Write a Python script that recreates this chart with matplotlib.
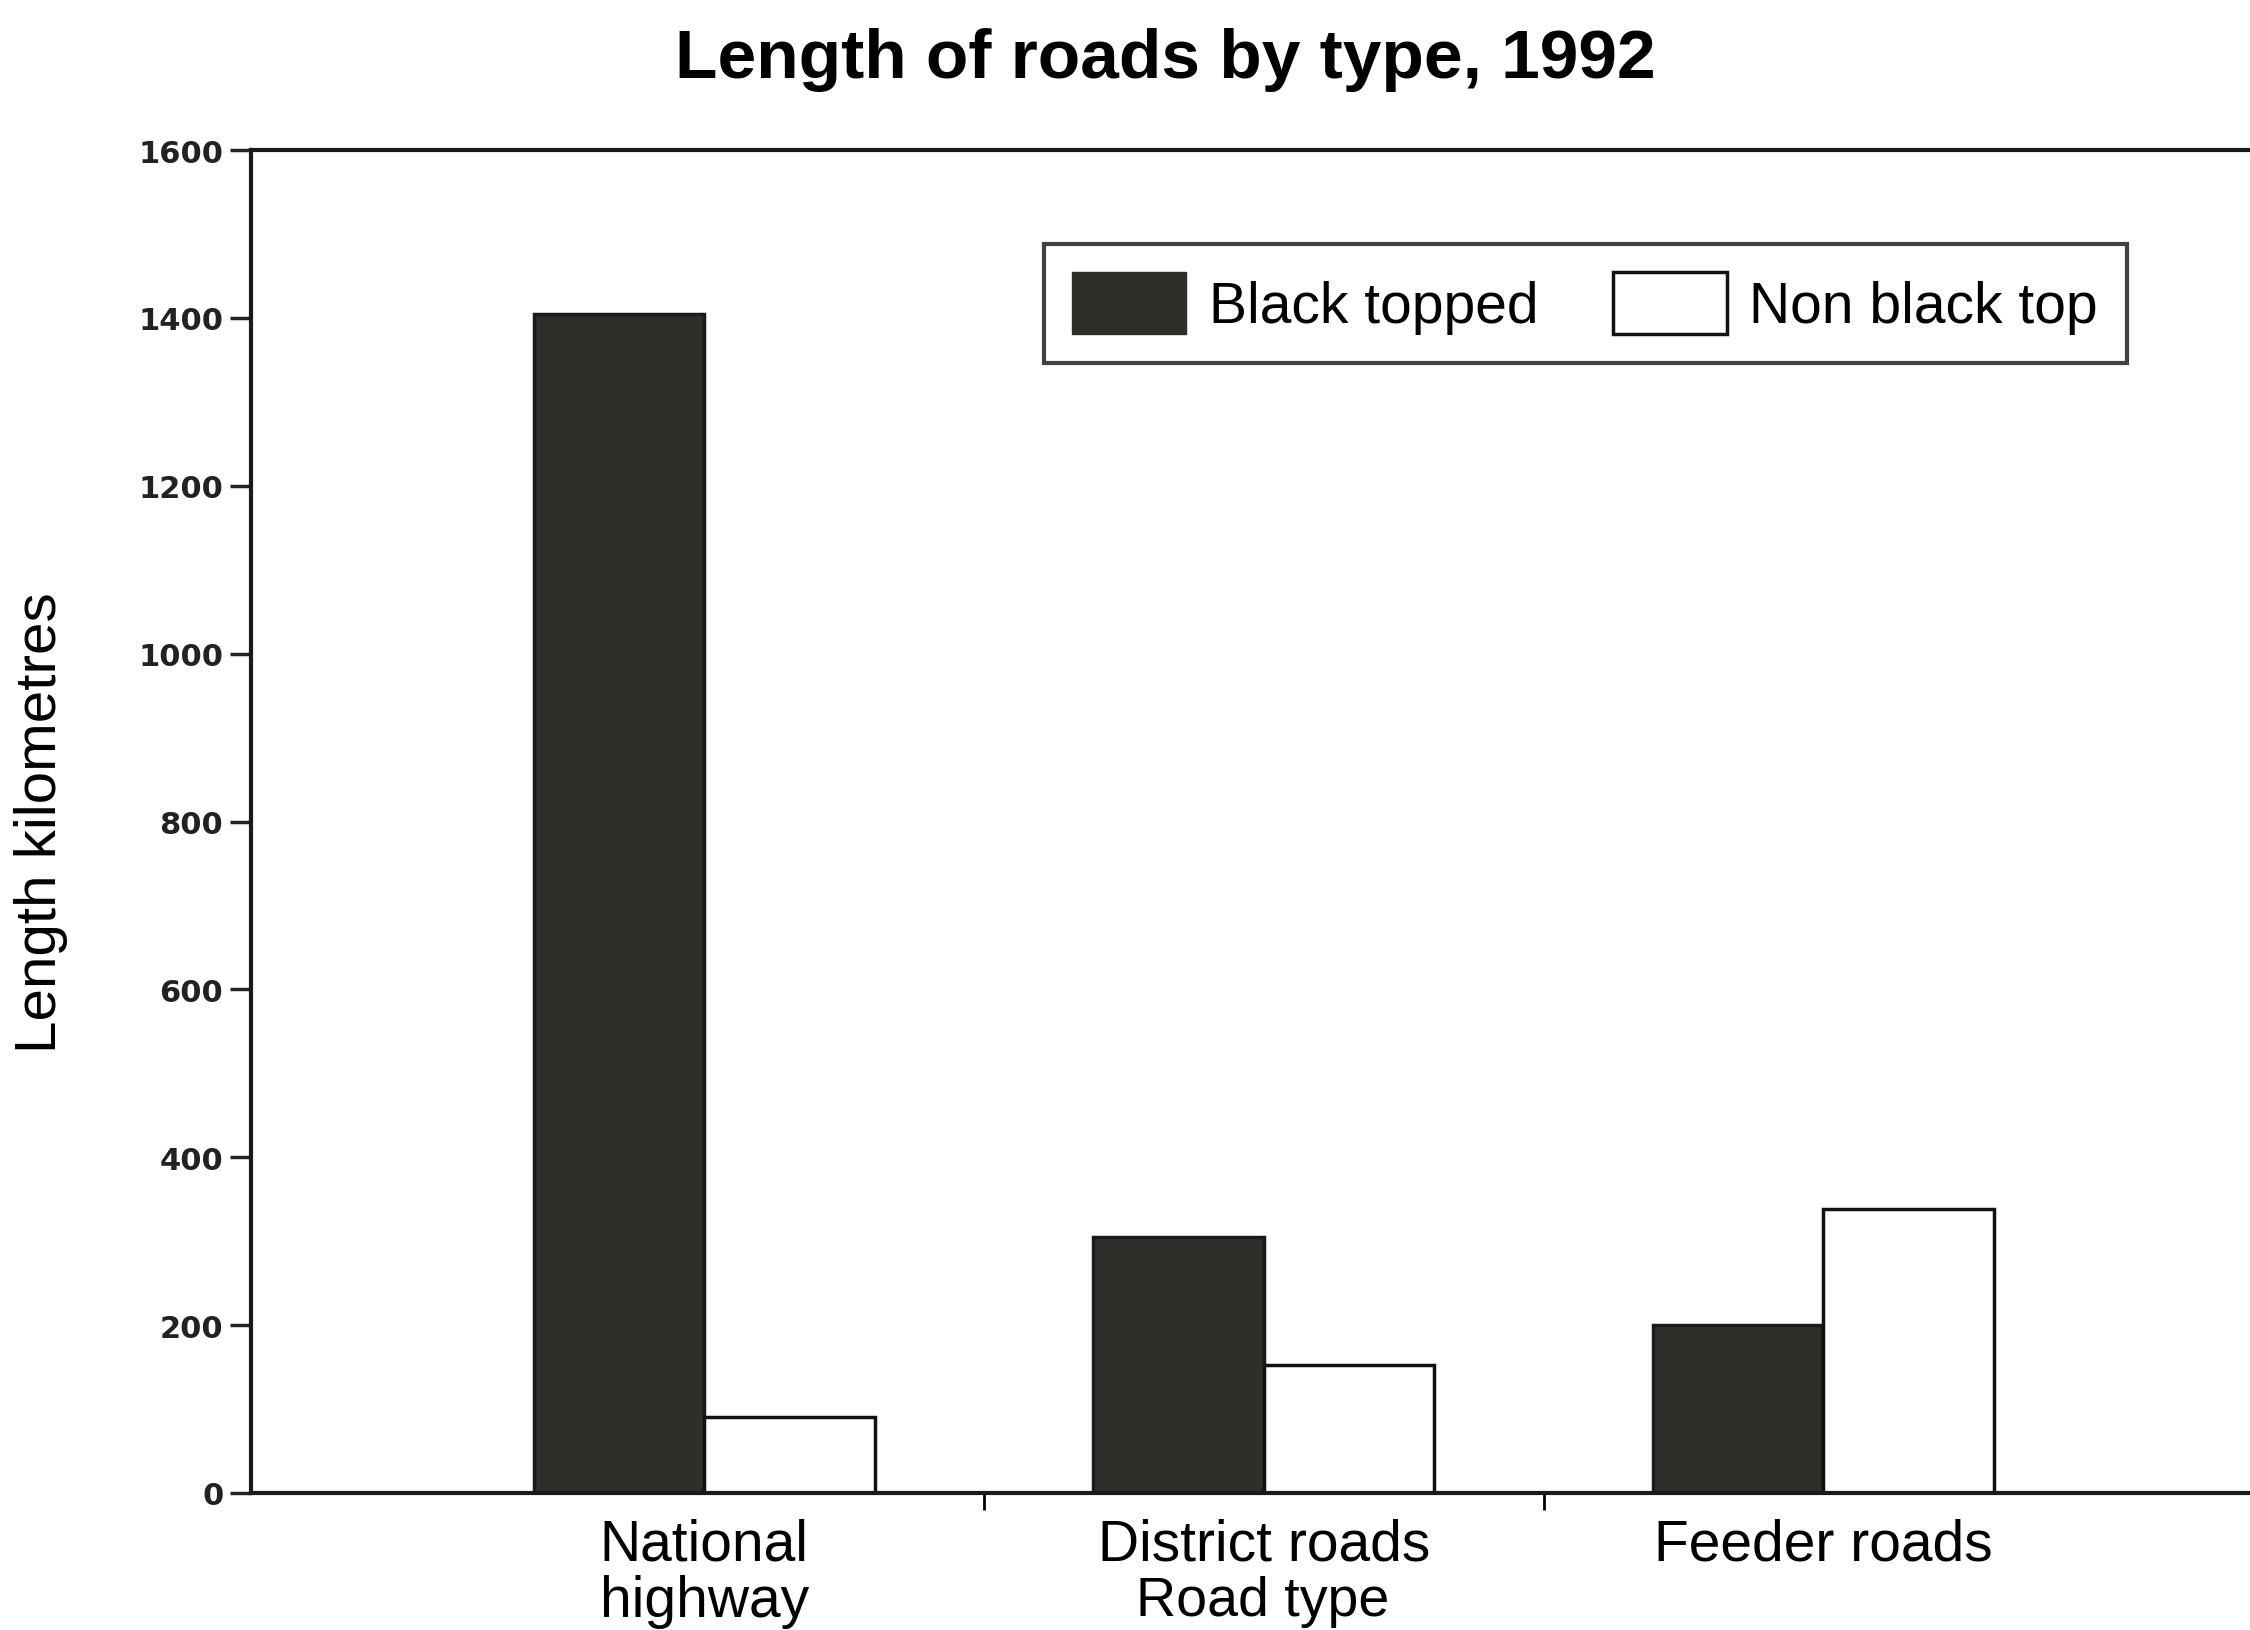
import numpy as np
import matplotlib
matplotlib.use("Agg")
import matplotlib.pyplot as plt
from matplotlib.patches import Patch

categories = ["National\nhighway", "District roads", "Feeder roads"]
black_topped = [1405, 305, 200]
non_black_top = [90, 152, 338]
y_ticks = [0, 200, 400, 600, 800, 1000, 1200, 1400, 1600]

plt.rcParams["font.family"] = ["Liberation Sans", "DejaVu Sans"]

fig = plt.figure(figsize=(22.5, 16.31), dpi=100)
# axes runs off the right edge of the page, as in the scan
ax = fig.add_axes([0.1116, 0.084, 0.935, 0.8234])

x = np.arange(len(categories))
w = 0.305
dark = "#2d2f2b"
ax.bar(x - w, black_topped, width=w, align="edge", color=dark,
       edgecolor="#1a1a1a", linewidth=2.5)
ax.bar(x, non_black_top, width=w, align="edge", color="white",
       edgecolor="#111111", linewidth=2.5)

ax.set_xlim(-0.81, 2.95)
ax.set_ylim(0, 1600)
ax.set_yticks(y_ticks)
ax.set_yticklabels([str(v) for v in y_ticks], fontsize=22,
                   fontweight="bold", family="DejaVu Sans")
ax.tick_params(axis="y", length=15, width=2.5, pad=5, colors="#222222")

ax.set_xticks(x)
ax.set_xticklabels(categories, fontsize=41, linespacing=1.05)
ax.tick_params(axis="x", which="major", length=0, pad=18)
ax.set_xticks([0.5, 1.5], minor=True)
ax.tick_params(axis="x", which="minor", length=12, width=2, direction="out")

for side in ["left", "top", "bottom"]:
    ax.spines[side].set_linewidth(3)
    ax.spines[side].set_color("#1a1a1a")
ax.spines["right"].set_visible(False)

ax.set_ylabel("Length kilometres", fontsize=42)
ax.yaxis.set_label_coords(-0.087, 0.5)
ax.set_xlabel("Road type", fontsize=40)
ax.xaxis.set_label_coords(0.481, -0.061)

fig.text(0.518, 1 - 60 / 1631, "Length of roads by type, 1992",
         ha="center", va="center", fontsize=50, fontweight="bold")

handles = [
    Patch(facecolor=dark, edgecolor=dark, label="Black topped"),
    Patch(facecolor="white", edgecolor="#111111", linewidth=2.5,
          label="Non black top"),
]
leg = ax.legend(handles=handles, ncol=2, loc="upper left",
                bbox_to_anchor=(0.464, 0.850),
                bbox_transform=fig.transFigure, fontsize=41,
                fancybox=False, handlelength=2.0, handleheight=1.3,
                borderpad=0.5, borderaxespad=0, columnspacing=1.3,
                handletextpad=0.4)
leg.get_frame().set_edgecolor("#111111")
leg.get_frame().set_linewidth(3)

fig.savefig("out.png", dpi=100)
